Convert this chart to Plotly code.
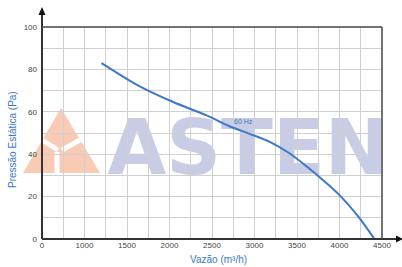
import plotly.graph_objects as go

# ---- data ----
flow = [1200, 1650, 2050, 2430, 2700, 2950, 3180, 3420, 3650, 3800, 4000, 4240, 4410]
pressure = [83, 72, 64.5, 58.4, 53.3, 49.5, 45.8, 40.2, 33.0, 28.0, 20.7, 9.6, 0]
series_name = "60 Hz"
x_tick_vals = [500, 1000, 1500, 2000, 2500, 3000, 3500, 4000, 4500]
x_tick_text = ["0", "1000", "1500", "2000", "2500", "3000", "3500", "4000", "4500"]
y_tick_vals = [0, 20, 40, 60, 80, 100]

W, H = 402, 267
L, R, T, B = 42, 20, 27, 28
PW, PH = W - L - R, H - T - B


def px(x):
    return (x - L) / PW


def py(y):
    return (H - B - y) / PH


BLUE = "#3a78c8"
fig = go.Figure()
fig.add_trace(go.Scatter(x=flow, y=pressure, mode="lines", name=series_name,
                         line=dict(color=BLUE, width=2, shape="spline", smoothing=0.8),
                         showlegend=False, hoverinfo="x+y"))

fig.add_annotation(x=2872, y=55.5, text=series_name, showarrow=False,
                   font=dict(size=7, color=BLUE, family="Liberation Sans"))

shapes = []
# watermark logo triangle
shapes.append(dict(type="path", xref="paper", yref="paper", layer="below",
                   path=f"M {px(61)} {py(108)} L {px(23)} {py(173)} L {px(100)} {py(173)} Z",
                   fillcolor="#f9cab4", line=dict(width=0)))
for (x0, y0, x1, y1) in [(42, 140, 58, 150), (80, 140, 62, 150), (57, 152, 57, 174)]:
    shapes.append(dict(type="line", xref="paper", yref="paper", layer="below",
                       x0=px(x0), y0=py(y0), x1=px(x1), y1=py(y1),
                       line=dict(color="white", width=5)))
# watermark text
shapes.append(dict(type="rect", xref="paper", yref="paper", layer="below",
                   x0=px(104), x1=px(392), y0=py(176), y1=py(108),
                   line=dict(width=0), fillcolor="rgba(0,0,0,0)",
                   label=dict(text="ASTEN", textposition="middle center",
                              font=dict(size=76, color="#c8cce4", family="DejaVu Sans", weight="bold"))))
# axis arrows
shapes.append(dict(type="line", xref="paper", yref="paper", x0=px(42), x1=px(42), y0=py(239), y1=py(12),
                   line=dict(color="#333333", width=2)))
shapes.append(dict(type="path", xref="paper", yref="paper",
                   path=f"M {px(38.5)} {py(15)} L {px(45.5)} {py(15)} L {px(42)} {py(7)} Z",
                   fillcolor="#111111", line=dict(width=0)))
shapes.append(dict(type="line", xref="paper", yref="paper", x0=px(42), x1=px(398), y0=py(239), y1=py(239),
                   line=dict(color="#333333", width=2)))
shapes.append(dict(type="path", xref="paper", yref="paper",
                   path=f"M {px(396)} {py(235.5)} L {px(396)} {py(242.5)} L {px(403)} {py(239)} Z",
                   fillcolor="#111111", line=dict(width=0)))
# top and right frame
shapes.append(dict(type="line", xref="paper", yref="paper", x0=0, x1=1, y0=1, y1=1,
                   line=dict(color="#444444", width=1.5)))
shapes.append(dict(type="line", xref="paper", yref="paper", x0=1, x1=1, y0=0, y1=1,
                   line=dict(color="#444444", width=1.5)))

fig.update_layout(
    width=W, height=H, margin=dict(l=L, r=R, t=T, b=B),
    paper_bgcolor="white", plot_bgcolor="rgba(0,0,0,0)",
    shapes=shapes, showlegend=False,
    font=dict(family="Liberation Sans", size=8, color="#444444"),
)
fig.update_xaxes(range=[500, 4500], tickvals=x_tick_vals, ticktext=x_tick_text,
                 showgrid=True, gridcolor="#d0d0d0", gridwidth=1, zeroline=False,
                 minor=dict(dtick=250, tick0=500, showgrid=True, gridcolor="#d0d0d0", gridwidth=1),
                 showline=False, ticks="", tickfont=dict(size=8, color="#444444"))
fig.update_yaxes(range=[0, 100], tickvals=y_tick_vals,
                 showgrid=True, gridcolor="#d0d0d0", gridwidth=1, zeroline=False,
                 minor=dict(dtick=10, tick0=0, showgrid=True, gridcolor="#d0d0d0", gridwidth=1),
                 showline=False, ticks="", ticklabelstandoff=4, tickfont=dict(size=8, color="#444444"))

fig.add_annotation(xref="paper", yref="paper", x=px(218), y=py(259), xanchor="center", yanchor="middle",
                   text="Vazão (m³/h)", showarrow=False,
                   font=dict(size=10, color=BLUE, family="Liberation Sans"))
fig.add_annotation(xref="paper", yref="paper", x=px(12), y=py(140), xanchor="center", yanchor="middle",
                   text="Pressão Estática (Pa)", textangle=-90, showarrow=False,
                   font=dict(size=10, color=BLUE, family="Liberation Sans"))

fig.write_html("out.html", config={"displayModeBar": False},
               post_script="document.body.style.margin='0';document.body.style.overflow='hidden';")
